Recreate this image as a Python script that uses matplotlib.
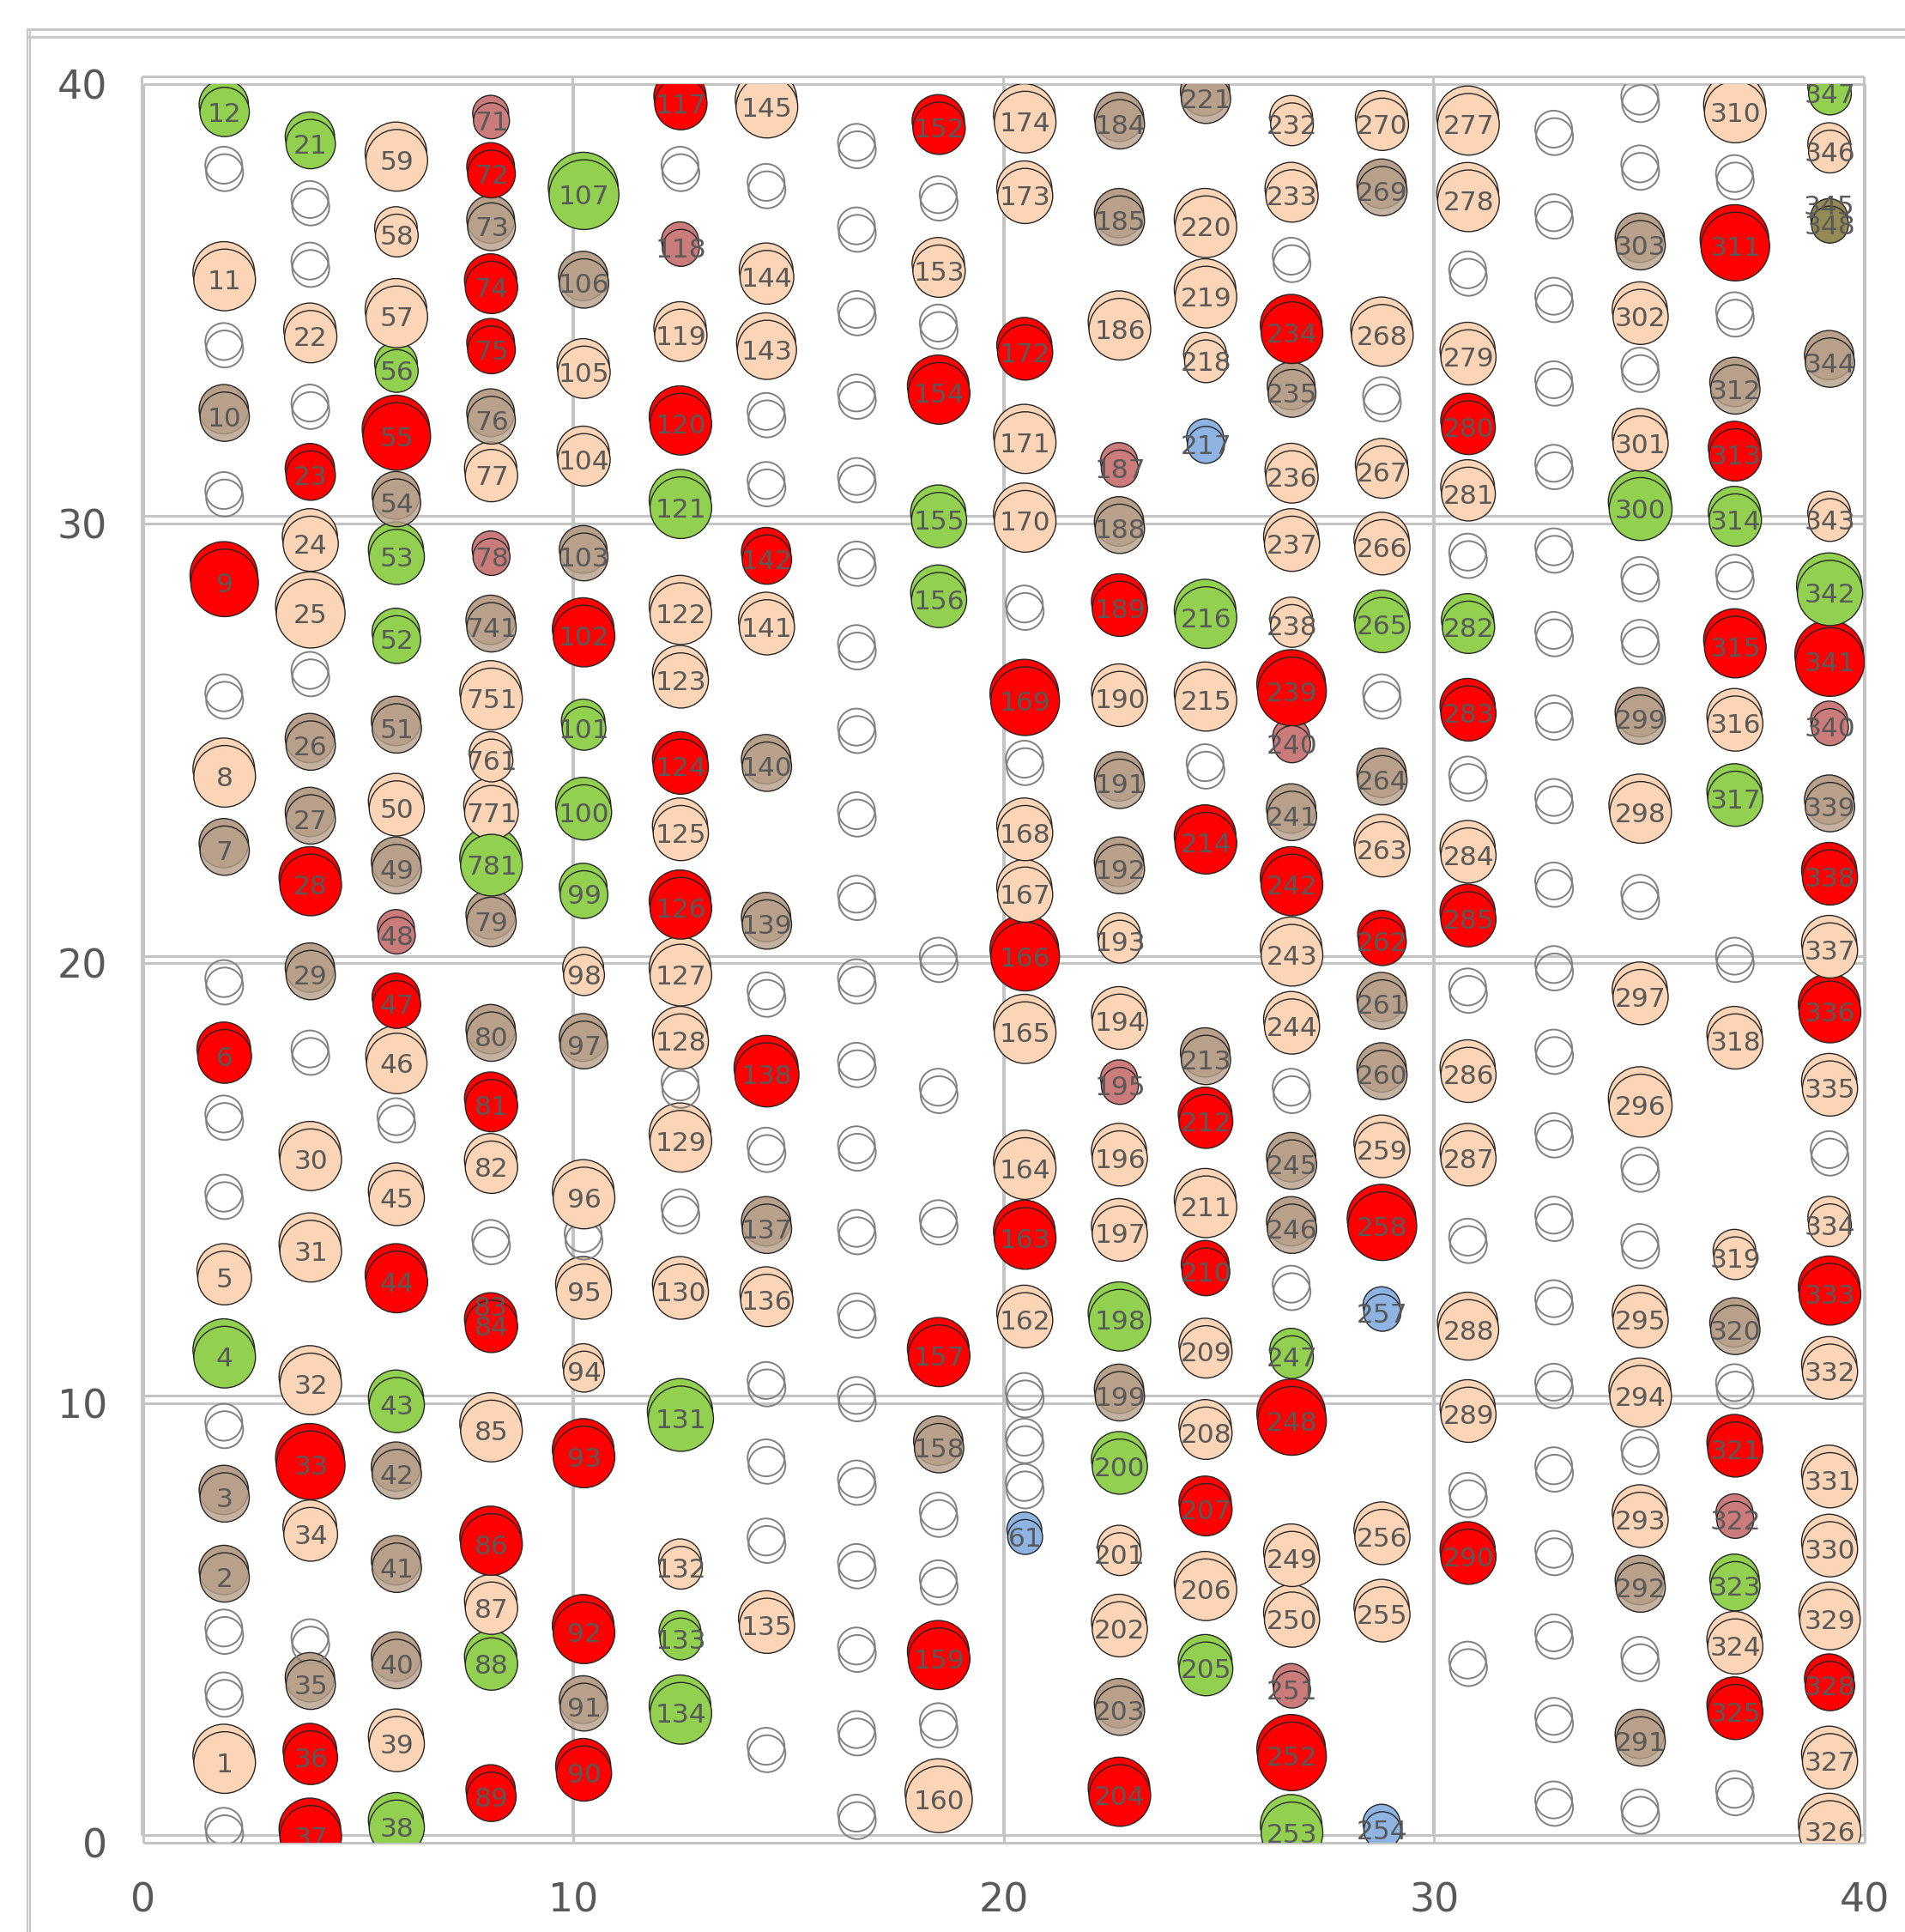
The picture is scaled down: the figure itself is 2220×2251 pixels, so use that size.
#!/usr/bin/env python3
"""Numbered bubble grid: 19 sample columns on a 40 x 40 field."""

import matplotlib

matplotlib.use("Agg")
import matplotlib.pyplot as plt
import numpy as np
from matplotlib.lines import Line2D

# x position of each column of bubbles
COL_X = [1.9, 3.9, 5.9, 8.1, 10.25, 12.5, 14.5, 16.6, 18.5, 20.5,
         22.7, 24.7, 26.7, 28.8, 30.8, 32.8, 34.8, 37.0, 39.2]

# kind of every bubble, top to bottom:
# p = peach, r = red, g = green, t = tan, k = rose, b = blue, o = olive, e = empty ring
KIND = [
    "gepetereptereepgetteepe",
    "geeperppettrteppprpetrr",
    "pppgrtggtptkrpeprgtttpg",
    "krtrrtpktpppgttrperprpgr",
    "gtpptrgggptpepprrtr",
    "rekprgpprprppepepgpgg",
    "peppeerptteretpeeepe",
    "eeeeeeeeeeeeeeeeeeeee",
    "reperggeeerteerep",
    "pprpperepprpprpeeeb",
    "ttpktrpttppkppgtgpptr",
    "tpppbgpertrprpprpg",
    "ppertppprktrppettegrppkrg",
    "ptpeppgetprttprbppb",
    "ppeprpegrepreppeppere",
    "eeeeeeeeeeeeeeeeeeeee",
    "eetpepgeetpeppeeppeptete",
    "peretrgerpgeppterkgpre",
    "gpotpgrktrprpeprpppprpp",
]

# y value of every bubble (rings included), same order as KIND
Y = [
    [39.36, 37.98, 35.54, 33.97, 32.43, 30.58, 28.65, 25.98, 24.25, 22.56, 19.48, 17.88,
     16.40, 14.60, 12.84, 11.04, 9.39, 7.85, 6.03, 4.71, 3.28, 1.82, 0.20],
    [38.63, 37.20, 35.80, 34.25, 32.57, 31.09, 29.54, 27.95, 26.49, 24.95, 23.27, 21.78,
     19.73, 17.88, 15.53, 13.45, 10.43, 8.58, 7.01, 4.49, 3.59, 1.93, 0.14],
    [38.26, 36.55, 34.70, 33.47, 31.98, 30.47, 29.24, 27.36, 25.34, 23.52, 22.14, 20.63,
     19.06, 17.72, 16.34, 14.66, 12.75, 9.95, 8.38, 6.25, 4.06, 2.24, 0.34],
    [39.16, 37.95, 36.75, 35.37, 33.95, 32.35, 31.09, 29.24, 27.64, 26.01, 24.61, 23.43,
     22.23, 20.94, 18.33, 16.76, 15.36, 13.57, 11.74, 9.36, 6.78, 5.33, 4.06, 1.04],
    [37.48, 35.46, 33.44, 31.45, 29.24, 27.44, 25.34, 23.43, 21.56, 19.73, 18.14, 14.66,
     13.68, 12.53, 10.71, 8.77, 4.77, 3.08, 1.57],
    [39.55, 37.98, 36.27, 34.28, 32.26, 30.36, 27.95, 26.43, 24.47, 22.96, 21.25, 19.73,
     18.22, 17.13, 15.95, 14.27, 12.53, 9.64, 6.25, 4.63, 2.94],
    [39.47, 37.59, 35.60, 33.95, 32.38, 30.81, 29.18, 27.64, 24.47, 20.88, 19.20, 17.46,
     15.67, 13.96, 12.33, 10.34, 8.58, 6.78, 4.93, 2.02],
    [38.5, 36.6, 34.7, 32.8, 30.9, 29.0, 27.1, 25.2, 23.3, 21.4, 19.5, 17.6,
     15.7, 13.8, 11.9, 10.0, 8.1, 6.2, 4.3, 2.4, 0.5],
    [38.99, 37.31, 35.74, 34.39, 32.96, 30.08, 28.26, 19.99, 17.01, 14.02, 11.07, 8.97,
     7.37, 5.83, 4.18, 2.58, 0.98],
    [39.13, 37.45, 33.89, 31.84, 30.05, 28.00, 25.96, 24.47, 22.96, 21.56, 20.15, 18.42,
     15.33, 13.74, 11.88, 10.09, 9.05, 8.02, 6.95],
    [39.08, 36.89, 34.42, 31.25, 29.88, 28.06, 26.01, 24.08, 22.14, 20.49, 18.67, 17.21,
     15.56, 13.85, 11.88, 10.15, 8.55, 6.56, 4.85, 3.00, 1.07],
    [39.66, 36.75, 35.15, 33.69, 31.79, 27.86, 25.98, 24.39, 22.73, 17.80, 16.40, 14.46,
     12.98, 11.16, 9.31, 7.57, 5.75, 3.95],
    [39.08, 37.45, 35.91, 34.34, 32.96, 31.06, 29.54, 27.67, 26.18, 24.98, 23.35, 21.78,
     20.18, 18.56, 17.01, 15.42, 13.96, 12.53, 11.04, 9.59, 6.45, 5.07, 3.48, 1.96, 0.22],
    [39.08, 37.56, 34.28, 32.74, 31.17, 29.46, 27.69, 25.98, 24.16, 22.59, 20.49, 19.06,
     17.46, 15.75, 14.02, 12.05, 6.95, 5.19, 0.28],
    [39.08, 37.34, 35.60, 33.78, 32.18, 30.67, 29.18, 27.64, 25.68, 24.11, 22.45, 21.00,
     19.29, 17.46, 15.56, 13.60, 11.66, 9.73, 7.82, 6.50, 3.98],
    [38.8, 36.9, 35.0, 33.1, 31.2, 29.3, 27.4, 25.5, 23.6, 21.7, 19.8, 17.9,
     16.0, 14.1, 12.2, 10.3, 8.4, 6.5, 4.6, 2.7, 0.8],
    [39.55, 38.01, 36.33, 34.70, 33.41, 31.82, 30.33, 28.65, 27.22, 25.54, 23.43, 21.42,
     19.23, 16.76, 15.22, 13.48, 11.88, 10.15, 8.80, 7.34, 5.80, 4.09, 2.30, 0.62],
    [39.36, 37.79, 36.30, 34.67, 33.05, 31.56, 30.08, 28.70, 27.19, 25.45, 23.74, 19.99,
     18.22, 13.29, 11.66, 10.29, 8.94, 7.34, 5.83, 4.46, 2.97, 1.04],
    [39.78, 38.46, 36.80, 33.66, 30.08, 28.42, 26.85, 25.37, 23.55, 21.95, 20.29, 18.89,
     17.15, 15.59, 14.04, 12.47, 10.71, 8.24, 6.67, 5.07, 3.56, 1.85, 0.25],
]

# labels of the filled bubbles only, top to bottom
LABELS = [
    ["12", "11", "10", "9", "8", "7", "6", "5", "4", "3", "2", "1"],
    ["21", "22", "23", "24", "25", "26", "27", "28", "29", "30", "31", "32", "33", "34",
     "35", "36", "37"],
    ["59", "58", "57", "56", "55", "54", "53", "52", "51", "50", "49", "48", "47", "46",
     "45", "44", "43", "42", "41", "40", "39", "38"],
    ["71", "72", "73", "74", "75", "76", "77", "78", "741", "751", "761", "771", "781",
     "79", "80", "81", "82", "84", "85", "86", "87", "88", "89"],
    ["107", "106", "105", "104", "103", "102", "101", "100", "99", "98", "97", "96", "95",
     "94", "93", "92", "91", "90"],
    ["117", "118", "119", "120", "121", "122", "123", "124", "125", "126", "127", "128",
     "129", "130", "131", "132", "133", "134"],
    ["145", "144", "143", "142", "141", "140", "139", "138", "137", "136", "135"],
    [],
    ["152", "153", "154", "155", "156", "157", "158", "159", "160"],
    ["174", "173", "172", "171", "170", "169", "168", "167", "166", "165", "164", "163",
     "162", "61"],
    ["184", "185", "186", "187", "188", "189", "190", "191", "192", "193", "194", "195",
     "196", "197", "198", "199", "200", "201", "202", "203", "204"],
    ["221", "220", "219", "218", "217", "216", "215", "214", "213", "212", "211", "210",
     "209", "208", "207", "206", "205"],
    ["232", "233", "234", "235", "236", "237", "238", "239", "240", "241", "242", "243",
     "244", "245", "246", "247", "248", "249", "250", "251", "252", "253"],
    ["270", "269", "268", "267", "266", "265", "264", "263", "262", "261", "260", "259",
     "258", "257", "256", "255", "254"],
    ["277", "278", "279", "280", "281", "282", "283", "284", "285", "286", "287", "288",
     "289", "290"],
    [],
    ["303", "302", "301", "300", "299", "298", "297", "296", "295", "294", "293", "292",
     "291"],
    ["310", "311", "312", "313", "314", "315", "316", "317", "318", "319", "320", "321",
     "322", "323", "324", "325"],
    ["347", "346", "348", "344", "343", "342", "341", "340", "339", "338", "337", "336",
     "335", "334", "333", "332", "331", "330", "329", "328", "327", "326"],
]

# bubble value of the filled bubbles (area is proportional to it)
SIZES = [
    [16, 25, 16, 30, 25, 16, 19, 19, 25, 16, 16, 25],
    [16, 18, 16, 20, 31, 16, 16, 25, 16, 25, 25, 25, 31, 19, 16, 19, 25],
    [25, 12, 25, 12, 30, 15, 20, 15, 16, 20, 16, 9, 15, 24, 20, 25, 20, 16, 16, 16, 20, 20],
    [8.5, 15, 15, 18, 15, 15, 18, 9, 16, 25, 12, 19, 25, 16, 16, 18, 18, 18, 25, 25, 18, 18, 16],
    [32, 16, 18, 18, 15, 25, 12.5, 20, 15, 11, 15, 25, 20, 11, 25, 25, 15, 20],
    [18, 9, 18, 25, 25, 25, 20, 20, 20, 25, 25, 20, 25, 20, 28, 12, 11.5, 25],
    [25, 19, 23, 16, 20, 16, 16, 27, 16, 18, 20],
    [],
    [18, 18, 25, 20, 20, 25, 16, 25, 29],
    [25, 20, 20, 25, 25, 31, 20, 20, 31, 25, 25, 25, 20, 8],
    [16, 16, 25, 9, 16, 20, 20, 16, 16, 12, 20, 9, 20, 20, 25, 16, 20, 12, 20, 16, 25],
    [16, 25, 25, 12, 9, 25, 25, 25, 16, 19, 25, 15, 18, 18, 18, 25, 19],
    [12, 18, 25, 15, 18, 20, 12, 31, 9, 16, 25, 25, 20, 16, 16, 12, 31, 20, 20, 9, 31, 25],
    [18, 16, 25, 18, 20, 20, 16, 20, 15, 16, 16, 20, 31, 9, 20, 20, 9],
    [25, 25, 20, 19, 19, 18, 20, 20, 20, 20, 20, 24, 20, 20],
    [],
    [16, 20, 20, 26, 16, 25, 20, 26, 20, 25, 20, 16, 16],
    [25, 31, 16, 18, 18, 25, 20, 20, 20, 12, 16, 20, 9, 16, 20, 20],
    [12, 12, 9, 16, 12, 28, 31, 9, 16, 20, 20, 25, 20, 12, 25, 20, 20, 20, 24, 16, 20, 25],
]

# two points share a spot; the second label shows through the ghost copy
GHOST_LABEL = {"84": "83", "348": "345"}

TICKS = [0, 10, 20, 30, 40]

FILL = {
    "p": "#FBD5B5",
    "r": "#FF0000",
    "g": "#92D050",
    "t": "#B8A08A",
    "k": "#CC7B7B",
    "b": "#8DB4E2",
    "o": "#948A54",
}
TEXT = "#595959"
EDGE = "#262626"
RING = "#808080"
GRID = "#C4C4C4"
AREA_PER_UNIT = 107.0
RING_VALUE = 9
GHOST_DX, GHOST_DY = -0.02, 0.17


def collect():
    xs, ys, kinds, labels, values = [], [], [], [], []
    for x, kind, ycol, lab, val in zip(COL_X, KIND, Y, LABELS, SIZES):
        assert len(kind) == len(ycol), (x, len(kind), len(ycol))
        assert len(lab) == len(val) == len(kind) - kind.count("e"), x
        lab_it, val_it = iter(lab), iter(val)
        for k, y in zip(kind, ycol):
            xs.append(x)
            ys.append(y)
            kinds.append(k)
            if k == "e":
                labels.append("")
                values.append(RING_VALUE)
            else:
                labels.append(next(lab_it))
                values.append(next(val_it))
    return np.array(xs), np.array(ys), kinds, labels, np.array(values, dtype=float)


def draw_layer(ax, xs, ys, kinds, values, zorder, tan_alpha):
    ring = np.array([k == "e" for k in kinds])
    sizes = values * AREA_PER_UNIT
    ax.scatter(xs[ring], ys[ring], s=sizes[ring], facecolors="none",
               edgecolors=RING, linewidths=1.4, zorder=zorder)
    faces = []
    for k in kinds:
        if k == "e":
            continue
        rgba = list(matplotlib.colors.to_rgba(FILL[k]))
        if k == "t":
            rgba[3] = tan_alpha
        faces.append(rgba)
    ax.scatter(xs[~ring], ys[~ring], s=sizes[~ring], c=faces,
               edgecolors=EDGE, linewidths=1.0, zorder=zorder)


def draw_grid(ax):
    for t in TICKS:
        for dx, dy in ((GHOST_DX, GHOST_DY), (0.0, 0.0)):
            ax.plot([0 + dx, 40 + dx], [t + dy, t + dy], color=GRID, lw=2.2,
                    zorder=0.5, clip_on=False, solid_capstyle="butt")
            ax.plot([t + dx, t + dx], [0 + dy, 40 + dy], color=GRID, lw=2.2,
                    zorder=0.5, clip_on=False, solid_capstyle="butt")


def main():
    xs, ys, kinds, labels, values = collect()

    fig = plt.figure(figsize=(22.2, 22.51), dpi=100)
    ax = fig.add_axes([0.0750, 0.0463, 0.9037, 0.9103])
    ax.set_xlim(0, 40)
    ax.set_ylim(0, 40)
    for spine in ax.spines.values():
        spine.set_visible(False)
    ax.set_xticks(TICKS)
    ax.set_yticks(TICKS)
    ax.tick_params(length=0, labelsize=33, labelcolor=TEXT)
    ax.tick_params(axis="x", pad=33)
    ax.tick_params(axis="y", pad=30)

    draw_grid(ax)

    # ghost copy sits a little higher, the main copy on top of it
    draw_layer(ax, xs + GHOST_DX, ys + GHOST_DY, kinds, values, 2, 1.0)
    draw_layer(ax, xs, ys, kinds, values, 3, 0.82)

    for x, y, lab in zip(xs, ys, labels):
        if not lab:
            continue
        ax.text(x, y - 0.05, lab, ha="center", va="center", fontsize=22.5, color=TEXT,
                zorder=5, clip_on=True)
        if lab in GHOST_LABEL:
            ax.text(x + GHOST_DX, y + 0.4, GHOST_LABEL[lab], ha="center",
                    va="center", fontsize=22.5, color=TEXT, zorder=5)

    # outer chart border (left and top edges are all that show)
    for yy in (0.9849, 0.9809):
        fig.add_artist(Line2D([0.0149, 1.0], [yy, yy], transform=fig.transFigure,
                              color="#C8C8C8", lw=2.2))
    for xx in (0.0142, 0.0158):
        fig.add_artist(Line2D([xx, xx], [0.0, 0.9849], transform=fig.transFigure,
                              color="#C8C8C8", lw=1.6))

    fig.savefig("out.png", dpi=100, facecolor="white")


if __name__ == "__main__":
    main()
